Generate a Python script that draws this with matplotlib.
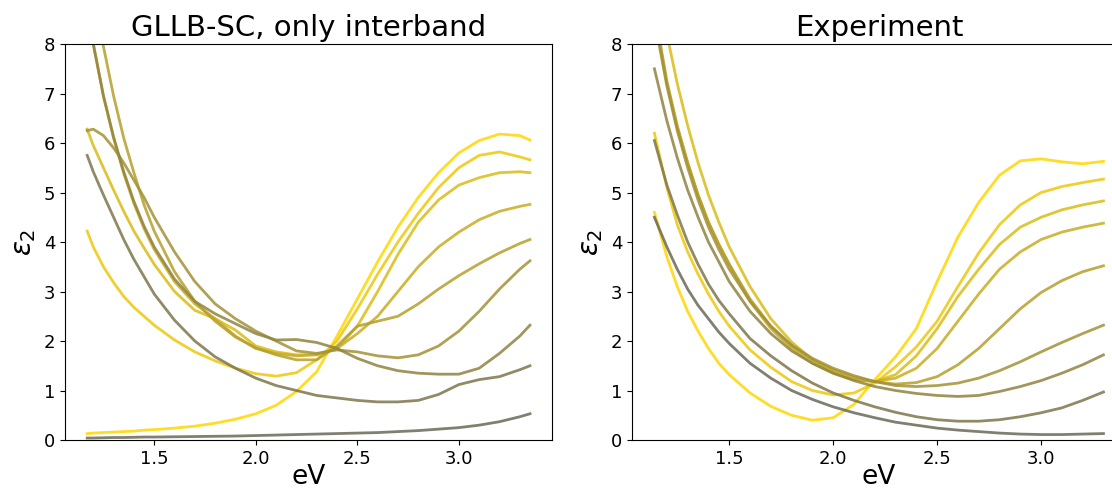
import numpy as np
import matplotlib
matplotlib.use('Agg')
import matplotlib.pyplot as plt

# Energias (eV) onde as curvas foram lidas
ev_calc = [1.17, 1.2, 1.25, 1.3, 1.35, 1.4, 1.45, 1.5, 1.6, 1.7, 1.8, 1.9, 2.0, 2.1,
           2.2, 2.3, 2.4, 2.5, 2.6, 2.7, 2.8, 2.9, 3.0, 3.1, 3.2, 3.3, 3.35]
ev_exp = [1.14, 1.2, 1.25, 1.3, 1.35, 1.4, 1.45, 1.5, 1.6, 1.7, 1.8, 1.9, 2.0, 2.1,
          2.2, 2.3, 2.4, 2.5, 2.6, 2.7, 2.8, 2.9, 3.0, 3.1, 3.2, 3.3]

# GLLB-SC, apenas interbanda (do mais dourado ao mais cinza)
calc_0 = [0.13, 0.14, 0.15, 0.16, 0.17, 0.18, 0.2, 0.21, 0.24, 0.28, 0.34, 0.42, 0.53, 0.7,
          0.98, 1.38, 2.1, 2.85, 3.6, 4.3, 4.9, 5.4, 5.8, 6.05, 6.18, 6.15, 6.06]
calc_1 = [4.22, 3.9, 3.5, 3.18, 2.9, 2.68, 2.5, 2.32, 2.02, 1.78, 1.6, 1.45, 1.34, 1.29,
          1.36, 1.62, 2.0, 2.65, 3.35, 4.0, 4.58, 5.1, 5.5, 5.75, 5.82, 5.72, 5.66]
calc_2 = [6.28, 5.95, 5.5, 5.05, 4.62, 4.22, 3.88, 3.55, 3.0, 2.62, 2.45, 2.22, 1.9, 1.78,
          1.72, 1.73, 1.85, 2.3, 3.0, 3.75, 4.4, 4.85, 5.15, 5.3, 5.4, 5.42, 5.4]
calc_3 = [9.0, 8.0, 6.95, 6.1, 5.38, 4.78, 4.27, 3.85, 3.2, 2.75, 2.45, 2.1, 1.85, 1.75,
          1.7, 1.72, 1.85, 2.15, 2.5, 3.0, 3.5, 3.9, 4.2, 4.45, 4.62, 4.72, 4.76]
calc_4 = [10.3, 9.2, 7.95, 6.95, 6.1, 5.4, 4.75, 4.22, 3.4, 2.8, 2.4, 2.08, 1.86, 1.72,
          1.62, 1.62, 1.9, 2.3, 2.4, 2.5, 2.75, 3.05, 3.32, 3.56, 3.78, 3.97, 4.05]
calc_5 = [6.25, 6.28, 6.15, 5.9, 5.6, 5.25, 4.9, 4.5, 3.8, 3.2, 2.75, 2.45, 2.2, 2.0,
          1.8, 1.75, 1.82, 1.78, 1.7, 1.66, 1.72, 1.9, 2.2, 2.6, 3.05, 3.45, 3.62]
calc_6 = [9.3, 8.0, 6.95, 6.12, 5.42, 4.82, 4.32, 3.9, 3.25, 2.8, 2.55, 2.35, 2.15, 2.02,
          2.03, 1.97, 1.85, 1.65, 1.5, 1.4, 1.35, 1.33, 1.33, 1.45, 1.75, 2.1, 2.32]
calc_7 = [5.75, 5.42, 4.95, 4.5, 4.05, 3.65, 3.3, 2.95, 2.42, 2.0, 1.68, 1.45, 1.25, 1.1,
          1.0, 0.9, 0.85, 0.8, 0.77, 0.77, 0.8, 0.92, 1.12, 1.22, 1.28, 1.42, 1.5]
calc_8 = [0.04, 0.04, 0.045, 0.05, 0.05, 0.055, 0.06, 0.06, 0.065, 0.07, 0.075, 0.08, 0.09, 0.1,
          0.11, 0.12, 0.13, 0.14, 0.15, 0.17, 0.19, 0.22, 0.25, 0.3, 0.37, 0.47, 0.53]

# Experimento
exp_0 = [4.6, 3.7, 3.1, 2.6, 2.2, 1.85, 1.55, 1.32, 0.95, 0.68, 0.5, 0.4, 0.45, 0.72,
         1.22, 1.68, 2.25, 3.2, 4.1, 4.8, 5.35, 5.64, 5.68, 5.62, 5.58, 5.63]
exp_1 = [6.2, 5.1, 4.35, 3.8, 3.35, 2.95, 2.6, 2.3, 1.82, 1.47, 1.18, 1.0, 0.91, 0.95,
         1.15, 1.48, 1.88, 2.4, 3.1, 3.78, 4.35, 4.75, 5.0, 5.12, 5.2, 5.27]
exp_2 = [9.6, 8.2, 7.2, 6.35, 5.6, 4.95, 4.4, 3.9, 3.1, 2.45, 1.98, 1.62, 1.38, 1.22,
         1.18, 1.32, 1.7, 2.25, 2.9, 3.45, 3.95, 4.3, 4.5, 4.65, 4.75, 4.83]
exp_3 = [8.6, 7.2, 6.3, 5.6, 4.95, 4.4, 3.95, 3.55, 2.8, 2.25, 1.85, 1.55, 1.35, 1.22,
         1.18, 1.25, 1.45, 1.85, 2.4, 2.95, 3.45, 3.8, 4.05, 4.2, 4.3, 4.38]
exp_4 = [8.7, 7.25, 6.35, 5.6, 4.95, 4.4, 3.95, 3.55, 2.85, 2.3, 1.9, 1.62, 1.42, 1.27,
         1.18, 1.13, 1.16, 1.28, 1.52, 1.85, 2.25, 2.65, 2.98, 3.22, 3.4, 3.52]
exp_5 = [8.5, 7.15, 6.25, 5.5, 4.85, 4.3, 3.85, 3.45, 2.8, 2.3, 1.92, 1.65, 1.45, 1.3,
         1.18, 1.1, 1.08, 1.1, 1.15, 1.25, 1.4, 1.58, 1.78, 1.97, 2.15, 2.32]
exp_6 = [7.5, 6.45, 5.7, 5.05, 4.5, 4.0, 3.6, 3.2, 2.6, 2.15, 1.8, 1.55, 1.35, 1.2,
         1.08, 1.0, 0.94, 0.9, 0.88, 0.9, 0.98, 1.08, 1.2, 1.35, 1.52, 1.72]
exp_7 = [6.05, 5.15, 4.55, 4.0, 3.55, 3.15, 2.82, 2.55, 2.05, 1.7, 1.4, 1.15, 0.95, 0.8,
         0.67, 0.56, 0.47, 0.41, 0.38, 0.38, 0.41, 0.47, 0.55, 0.65, 0.8, 0.97]
exp_8 = [4.5, 3.9, 3.45, 3.05, 2.72, 2.45, 2.18, 1.95, 1.55, 1.25, 1.0, 0.82, 0.67, 0.55,
         0.45, 0.36, 0.3, 0.24, 0.2, 0.17, 0.14, 0.12, 0.11, 0.11, 0.12, 0.13]

calc = [calc_0, calc_1, calc_2, calc_3, calc_4, calc_5, calc_6, calc_7, calc_8]
exp = [exp_0, exp_1, exp_2, exp_3, exp_4, exp_5, exp_6, exp_7, exp_8]

# Cores do dourado ao cinza
gold = np.array([1.0, 0.84, 0.0])
gray = np.array([0.42, 0.41, 0.34])
cores = [tuple((1 - t) * gold + t * gray) for t in np.linspace(0, 1, len(calc))]

fig = plt.figure(figsize=(11.12, 4.94), dpi=100)
ax1 = fig.add_axes([0.0585, 0.1093, 0.438, 0.8016])
ax2 = fig.add_axes([0.5683, 0.1093, 0.4442, 0.8016])

for ax, ev, curvas, titulo in [(ax1, ev_calc, calc, 'GLLB-SC, only interband'),
                                (ax2, ev_exp, exp, 'Experiment')]:
    for y, c in zip(curvas, cores):
        ax.plot(ev, y, color=c, lw=2, alpha=0.85)
    ax.set_ylim(0, 8)
    ax.set_title(titulo, fontsize=21)
    ax.set_xlabel('eV', fontsize=19, labelpad=-3)
    ax.set_ylabel(r'$\varepsilon_2$', fontsize=20)
    ax.tick_params(labelsize=13)

fig.savefig('out.png', dpi=100)
